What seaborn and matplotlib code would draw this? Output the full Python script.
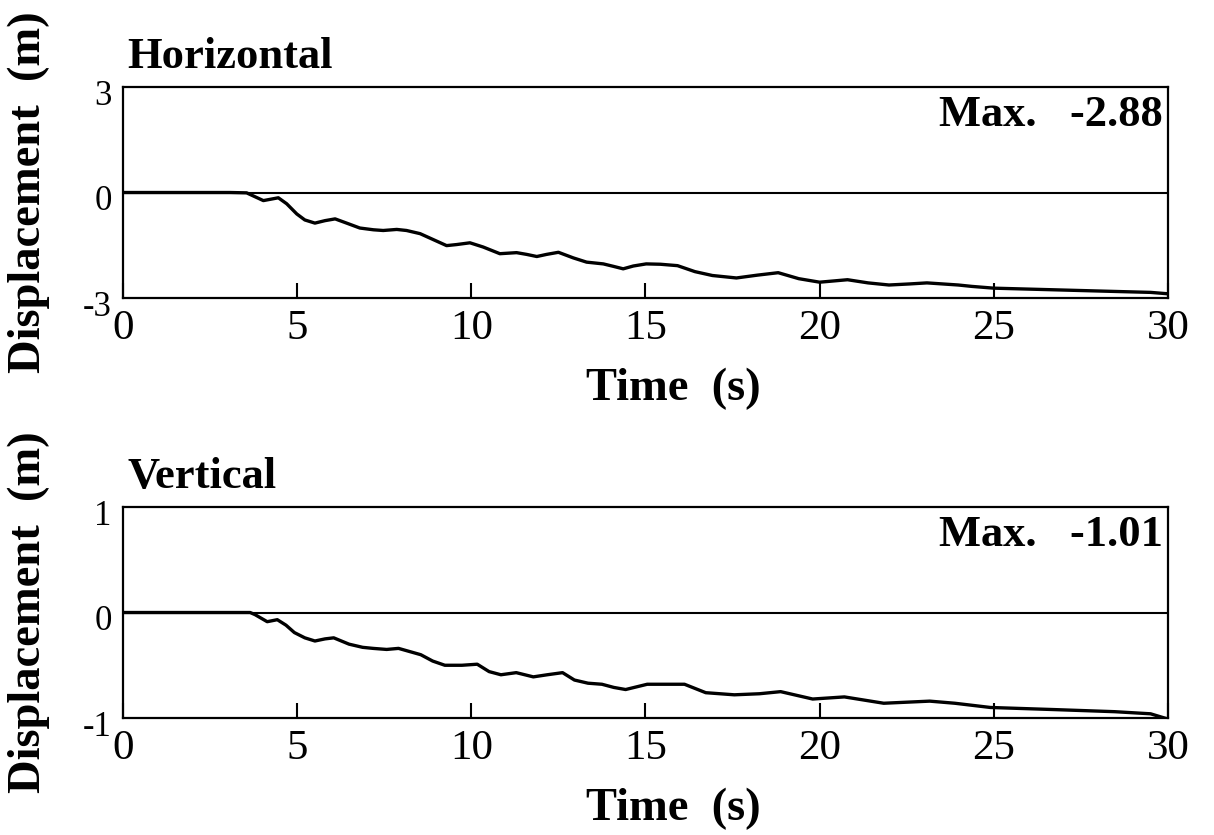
import matplotlib
matplotlib.use("Agg")
import matplotlib.pyplot as plt
import matplotlib.transforms as mtransforms
import seaborn as sns
import pandas as pd

# Horizontal displacement (m) vs time (s)
time_h = [0, 3.07, 3.55, 4.03, 4.46, 4.70, 4.99, 5.22, 5.51, 5.80, 6.09, 6.42,
          6.80, 7.19, 7.47, 7.86, 8.14, 8.53, 8.91, 9.29, 9.58, 9.96, 10.34,
          10.82, 11.30, 11.59, 11.88, 12.16, 12.50, 12.93, 13.31, 13.79, 14.08,
          14.36, 14.65, 15.02, 15.43, 15.92, 16.42, 16.92, 17.61, 18.21, 18.81,
          19.40, 20.00, 20.80, 21.39, 21.99, 22.58, 23.08, 23.98, 24.37, 25.00,
          26.86, 28.35, 29.50, 30.0]
disp_h = [0, 0, -0.01, -0.23, -0.15, -0.32, -0.61, -0.78, -0.87, -0.80, -0.75, -0.87,
          -1.01, -1.06, -1.08, -1.05, -1.08, -1.17, -1.34, -1.51, -1.48, -1.43, -1.55,
          -1.74, -1.71, -1.76, -1.82, -1.76, -1.70, -1.86, -1.98, -2.03, -2.10,
          -2.17, -2.09, -2.03, -2.04, -2.08, -2.25, -2.36, -2.43, -2.35, -2.28,
          -2.45, -2.55, -2.48, -2.57, -2.63, -2.60, -2.57, -2.63, -2.67, -2.72,
          -2.77, -2.81, -2.84, -2.88]

# Vertical displacement (m) vs time (s)
time_v = [0, 3.65, 3.79, 4.14, 4.43, 4.68, 4.92, 5.22, 5.51, 5.80, 6.05, 6.49,
          6.88, 7.18, 7.57, 7.91, 8.55, 8.89, 9.24, 9.73, 10.17, 10.51, 10.85,
          11.29, 11.78, 12.18, 12.62, 12.96, 13.35, 13.75, 14.09, 14.43, 15.05,
          16.12, 16.73, 17.55, 18.27, 18.88, 19.80, 20.71, 21.84, 23.16, 23.88,
          24.90, 26.73, 28.47, 29.50, 30.0]
disp_v = [0, 0, -0.02, -0.087, -0.068, -0.12, -0.19, -0.24, -0.27, -0.25, -0.24, -0.30,
          -0.33, -0.34, -0.35, -0.34, -0.40, -0.46, -0.50, -0.50, -0.49, -0.56, -0.59,
          -0.57, -0.61, -0.59, -0.57, -0.64, -0.67, -0.68, -0.71, -0.73, -0.68,
          -0.68, -0.76, -0.78, -0.77, -0.75, -0.82, -0.80, -0.86, -0.84, -0.86,
          -0.90, -0.92, -0.94, -0.96, -1.01]

x_ticks = [0, 5, 10, 15, 20, 25, 30]
panels = [
    ("Horizontal", time_h, disp_h, 3, "-2.88"),
    ("Vertical", time_v, disp_v, 1, "-1.01"),
]

sns.set_theme(style="white")
plt.rcParams["font.family"] = ["Liberation Serif", "DejaVu Serif"]
plt.rcParams["axes.unicode_minus"] = False
plt.rcParams["text.color"] = "black"
plt.rcParams["axes.labelcolor"] = "black"
plt.rcParams["xtick.color"] = "black"
plt.rcParams["ytick.color"] = "black"

fig = plt.figure(figsize=(12.14, 8.35), dpi=100)
axes = [fig.add_axes([0.1013, 0.6431, 0.8608, 0.2527]),
        fig.add_axes([0.1013, 0.1401, 0.8608, 0.2527])]

for ax, (title, t, d, lim, max_txt) in zip(axes, panels):
    df = pd.DataFrame({"time": t, "disp": d})
    sns.lineplot(data=df, x="time", y="disp", ax=ax, color="black",
                 linewidth=2.4, estimator=None, sort=False,
                 solid_joinstyle="round", solid_capstyle="round")
    ax.axhline(0, color="black", linewidth=1.5)

    ax.set_xlim(0, 30)
    ax.set_ylim(-lim, lim)
    ax.set_xticks(x_ticks)
    ax.set_yticks([-lim, 0, lim])
    ax.tick_params(axis="x", direction="in", length=11, width=1.5,
                   labelsize=31, pad=8.5, bottom=True)
    ax.tick_params(axis="y", length=0, labelsize=25, pad=8)
    # y labels in the original sit a bit below their tick positions
    offset = mtransforms.ScaledTranslation(0, -5 / 100, fig.dpi_scale_trans)
    for lab in ax.get_yticklabels():
        lab.set_transform(lab.get_transform() + offset)

    for sp in ax.spines.values():
        sp.set_color("black")
        sp.set_linewidth(1.6)

    ax.set_title(title, loc="left", fontweight="bold", fontsize=32, pad=14,
                 color="black", x=0.004)
    ax.text(0.995, 0.962, f"Max.   {max_txt}", transform=ax.transAxes,
            ha="right", va="top", fontweight="bold", fontsize=32)

    ax.set_xlabel("Time  (s)", fontweight="bold", fontsize=33.5)
    ax.xaxis.set_label_coords(0.527, -0.332)
    ax.set_ylabel("Displacement  (m)", fontweight="bold", fontsize=33.5)
    ax.yaxis.set_label_coords(-0.07, 0.5)

fig.savefig("out.png", dpi=100, facecolor="white")
